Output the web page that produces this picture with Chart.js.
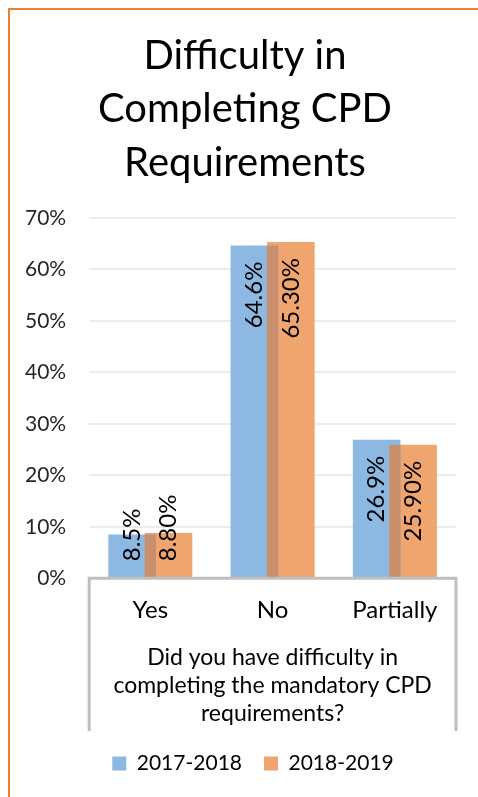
<!DOCTYPE html>
<html>
<head>
<meta charset="utf-8">
<script src="https://cdn.jsdelivr.net/npm/chart.js@4.4.0/dist/chart.umd.min.js"></script>
<style>
  html, body { margin: 0; padding: 0; background: #fff; }
  #wrap { position: relative; width: 478px; height: 797px; overflow: hidden; }
  #frame { position: absolute; left: 8px; top: 8px; width: 600px; height: 900px;
           border-left: 2px solid #ed7d31; border-top: 2px solid #ed7d31; }
  #chart { position: absolute; left: 0; top: 0; }
</style>
</head>
<body>
<div id="wrap">
  <div id="frame"></div>
  <canvas id="chart" width="478" height="797"></canvas>
</div>
<script>
const categories = ['Yes', 'No', 'Partially'];
const values2017 = [8.5, 64.6, 26.9];
const values2018 = [8.8, 65.3, 25.9];
const labels2017 = ['8.5%', '64.6%', '26.9%'];
const labels2018 = ['8.80%', '65.30%', '25.90%'];
const seriesNames = ['2017-2018', '2018-2019'];
const yMax = 70;
const yStep = 10;

const FONT = 'Lato, "Open Sans", sans-serif';

// darker strip where the two bars overlap
const overlapPlugin = {
  id: 'overlap',
  afterDatasetsDraw(chart) {
    const a = chart.getDatasetMeta(0).data;
    const b = chart.getDatasetMeta(1).data;
    const ctx = chart.ctx;
    ctx.save();
    ctx.fillStyle = '#c98e6c';
    a.forEach((el0, i) => {
      const el1 = b[i];
      const left = el1.x - el1.width / 2;
      const right = el0.x + el0.width / 2;
      const top = Math.max(el0.y, el1.y);
      if (right > left) ctx.fillRect(left, top, right - left, el0.base - top);
    });
    ctx.restore();
  }
};

// rotated value labels, inside end
const valueLabels = {
  id: 'valueLabels',
  afterDatasetsDraw(chart) {
    const ctx = chart.ctx;
    const texts = [labels2017, labels2018];
    ctx.save();
    ctx.font = '24px ' + FONT;
    ctx.fillStyle = '#000';
    ctx.textBaseline = 'middle';
    ctx.textAlign = 'left';
    [0, 1].forEach(d => {
      chart.getDatasetMeta(d).data.forEach((el, i) => {
        const t = texts[d][i];
        const w = ctx.measureText(t).width;
        let start = el.y + 16 + w;
        if (start > el.base - 16) start = el.base - 16;
        ctx.save();
        ctx.translate(el.x, start);
        ctx.rotate(-Math.PI / 2);
        ctx.fillText(t, 0, 0);
        ctx.restore();
      });
    });
    ctx.restore();
  }
};

// grey box around the category axis
const axisBox = {
  id: 'axisBox',
  afterDraw(chart) {
    const ctx = chart.ctx;
    const x = chart.scales.x;
    const ca = chart.chartArea;
    ctx.save();
    ctx.strokeStyle = '#bfbfbf';
    ctx.lineWidth = 3;
    ctx.beginPath();
    ctx.moveTo(ca.left, ca.bottom);
    ctx.lineTo(ca.left, x.bottom);
    ctx.moveTo(ca.right, ca.bottom);
    ctx.lineTo(ca.right, x.bottom);
    ctx.moveTo(ca.left - 1.5, ca.bottom);
    ctx.lineTo(ca.right + 1.5, ca.bottom);
    ctx.stroke();
    ctx.restore();
  }
};

// nudge title and legend to the right, as in the original
const nudge = {
  id: 'nudge',
  afterLayout(chart) {
    chart.titleBlock.left += 16;
    chart.titleBlock.right += 16;
    chart.legend.left += 24;
    chart.legend.right += 24;
  }
};

new Chart(document.getElementById('chart'), {
  type: 'bar',
  data: {
    labels: categories,
    datasets: [
      { label: seriesNames[0], data: values2017, backgroundColor: '#8cb8e2',
        barPercentage: 1.31, categoryPercentage: 0.595 },
      { label: seriesNames[1], data: values2018, backgroundColor: '#f0a56f',
        barPercentage: 1.31, categoryPercentage: 0.595 }
    ]
  },
  options: {
    responsive: false,
    animation: false,
    layout: { padding: { left: 2, right: 22, top: 0, bottom: 13 } },
    plugins: {
      title: {
        display: true,
        text: ['Difficulty in', 'Completing CPD', 'Requirements'],
        color: '#000',
        font: { family: FONT, size: 40, weight: 'normal', lineHeight: 1.34 },
        padding: { top: 29, bottom: 28 }
      },
      legend: {
        position: 'bottom',
        labels: {
          color: '#000',
          font: { family: FONT, size: 21 },
          boxWidth: 14, boxHeight: 14, padding: 22
        }
      },
      tooltip: { enabled: false }
    },
    scales: {
      y: {
        min: 0, max: yMax,
        ticks: { stepSize: yStep, callback: v => v + '%', color: '#262626',
                 font: { family: FONT, size: 21 }, padding: 23 },
        grid: { color: '#ececec', lineWidth: 2, drawTicks: false },
        border: { display: false }
      },
      x: {
        ticks: { color: '#000', font: { family: FONT, size: 24 }, padding: 18 },
        grid: { display: false, drawTicks: false },
        border: { display: false },
        title: {
          display: true,
          text: ['Did you have difficulty in', 'completing the mandatory CPD', 'requirements?'],
          color: '#000',
          font: { family: FONT, size: 23, lineHeight: 1.217 },
          padding: { top: 1, bottom: 3 }
        }
      }
    }
  },
  plugins: [overlapPlugin, valueLabels, axisBox, nudge]
});
</script>
</body>
</html>
